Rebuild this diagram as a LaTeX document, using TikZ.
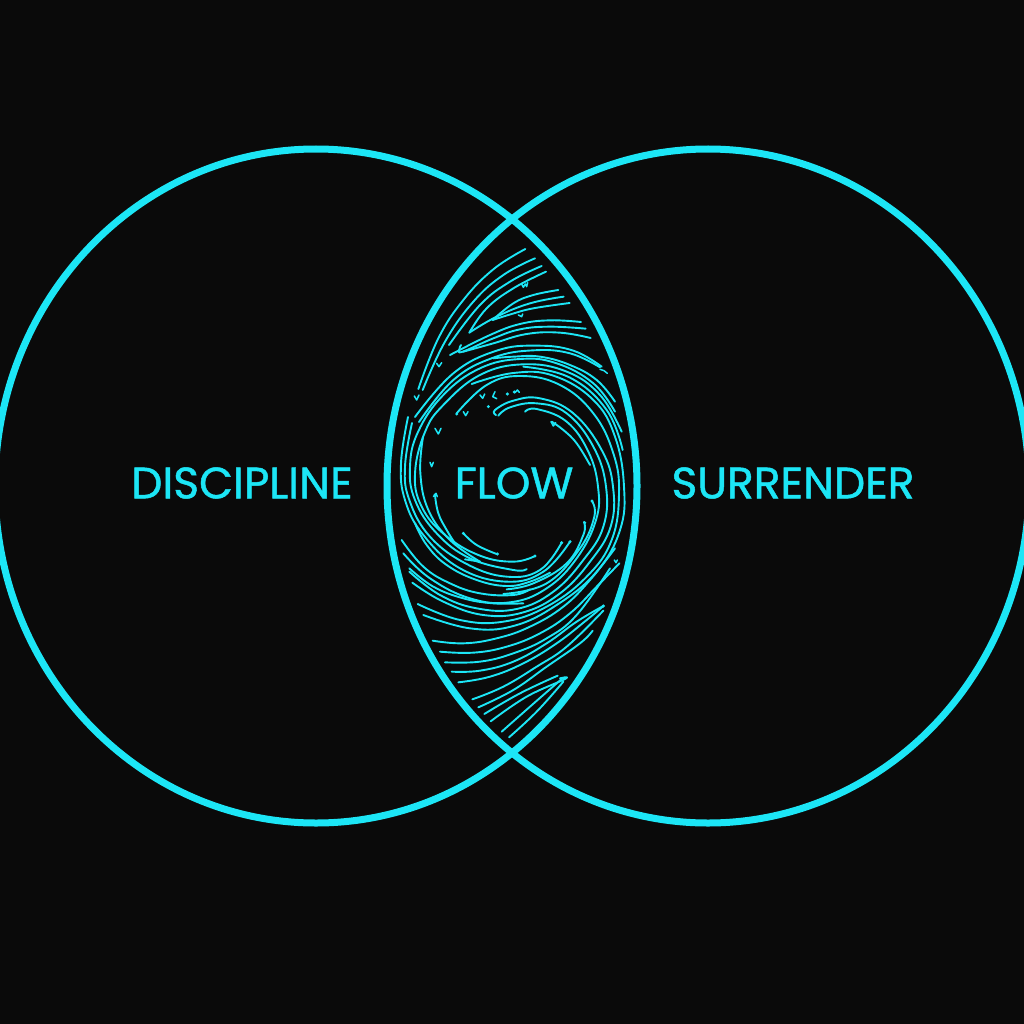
\documentclass[tikz,border=0pt]{standalone}
\usepackage{fontspec}
\setmainfont[FakeBold=1.1]{Poppins}
\definecolor{bgdark}{HTML}{0A0A0A}
\definecolor{cyanline}{HTML}{1CE6F6}
\tikzset{
  ring/.style={draw=cyanline,line width=7pt},
  label/.style={text=cyanline,font=\fontsize{44}{44}\selectfont,inner sep=0pt,anchor=center},
  flowline/.style={draw=cyanline,line width=1.9pt,line cap=round,line join=round},
  tick/.style={draw=cyanline,line width=1.5pt,line cap=round,line join=round},
  zoomtop/.style={xshift=380pt,yshift=-210pt,x=.33333pt,y=-.33333pt},
}
\newcommand{\fl}[1]{\draw[flowline] plot[smooth,tension=.7] coordinates {#1};}
\newcommand{\tk}[1]{\draw[tick] plot coordinates {#1};}
\newcommand{\dt}[1]{\fill[cyanline] #1 circle (5);}
\begin{document}
\begin{tikzpicture}[x=1pt,y=-1pt]
\fill[bgdark] (0,0) rectangle (1024,1024);
\useasboundingbox (0,0) rectangle (1024,1024);
\clip (0,0) rectangle (1024,1024);
\draw[ring] (316,486) ellipse [x radius=321,y radius=337];
\draw[ring] (708,486) ellipse [x radius=321,y radius=337];
\begin{scope}[zoomtop]
% upper fan
\fl{(436,117)(340,178)(250,270)(175,385)(115,537)}
\fl{(465,145)(370,195)(280,275)(195,395)(128,540)}
\fl{(485,168)(390,215)(300,285)(207,405)}
\fl{(498,185)(400,235)(320,295)(268,368)}
\fl{(535,240)(460,255)(400,280)(338,330)}
\fl{(551,260)(450,280)(350,320)(268,368)}
\fl{(569,279)(460,295)(395,312)(338,330)}
\fl{(603,336)(510,331)(420,342)(330,375)(210,435)}
\fl{(617,356)(510,350)(420,358)(340,385)(248,425)(238,418)(243,405)}
\fl{(632,384)(540,368)(440,372)(340,400)(250,425)}
% upper swirl: arcs that end on the right
\fl{(665,470)(580,422)(470,407)(350,422)(220,490)(105,621)}
\fl{(660,472)(570,430)(460,421)(340,443)(220,510)(117,636)}
\fl{(705,575)(650,510)(570,465)(480,440)(400,440)(340,445)}
\fl{(705,605)(640,520)(530,460)(420,447)(300,475)(190,555)(114,666)(90,770)(105,870)(170,970)(270,1045)(400,1080)(440,1077)}
\fl{(725,665)(660,555)(560,485)(430,463)(300,495)(190,585)(135,666)(105,790)(125,890)(195,975)(300,1037)(400,1055)(465,1038)}
\fl{(728,720)(680,600)(570,503)(430,470)}
\fl{(630,765)(590,700)(550,660)(515,635)}
% arcs that run round the right side and on to the bottom
\fl{(435,605)(470,597)(560,635)(625,725)(654,830)(648,930)(590,1045)(500,1135)(390,1177)(270,1165)(150,1105)(70,1030)}
\fl{(355,617)(390,592)(470,580)(560,610)(640,710)(678,830)(670,950)(610,1050)(520,1145)(410,1197)(290,1195)(180,1155)(88,1085)}
\fl{(348,615)(345,600)(400,572)(480,565)(580,610)(665,720)(699,830)(692,950)(630,1055)(540,1150)(430,1207)(310,1215)(190,1175)(97,1118)}
\fl{(230,610)(320,525)(420,498)(540,525)(640,610)(700,730)(717,850)(695,990)(620,1100)(500,1190)(370,1235)(240,1230)(113,1182)}
\fl{(275,522)(400,489)(520,497)(640,570)(705,680)(732,830)(720,960)(650,1085)(530,1185)(400,1248)(270,1255)(130,1215)}
% left side, running down to the bottom
\fl{(84,621)(63,760)(75,870)(130,975)(240,1075)(380,1115)(490,1085)(570,995)}
\fl{(96,639)(75,770)(88,870)(150,980)(260,1062)(380,1100)(480,1080)(545,998)}
\fl{(129,681)(121,789)(145,900)(210,990)(300,1055)}
\fl{(105,940)(140,1005)(200,1065)(290,1110)(380,1128)(450,1115)(510,1088)}
\fl{(165,855)(175,910)(200,960)(225,1000)}
\fl{(250,970)(290,1005)(350,1032)}
\fl{(255,1048)(300,1055)}
\fl{(636,873)(643,920)(600,1015)(500,1120)(370,1152)}
\fl{(612,936)(610,975)(560,1060)(460,1120)(380,1138)}
% below the swirl
\fl{(65,990)(130,1070)(210,1120)(300,1150)(400,1155)(450,1138)}
\fl{(88,1075)(160,1130)(250,1165)(340,1180)(430,1180)}
% lower fan
\fl{(158,1292)(250,1300)(350,1285)(450,1250)(550,1190)(630,1110)(705,1015)}
\fl{(180,1325)(280,1328)(380,1310)(480,1270)(570,1210)(650,1130)(718,1060)}
\fl{(195,1357)(300,1355)(400,1330)(500,1285)(590,1215)(690,1075)}
\fl{(215,1385)(300,1382)(400,1355)(500,1300)(590,1235)(670,1188)}
\fl{(235,1417)(330,1400)(430,1360)(530,1300)(620,1230)(670,1188)}
\fl{(277,1468)(370,1430)(470,1370)(560,1310)(670,1202)}
\fl{(295,1492)(400,1440)(500,1370)(600,1300)(638,1262)}
\fl{(313,1512)(420,1450)(533,1397)}
\fl{(332,1534)(440,1460)(555,1407)(540,1405)}
\fl{(365,1565)(450,1490)(545,1407)}
\fl{(387,1582)(470,1505)(550,1415)}
% specks
\tk{(425,222)(430,232)(436,222)(440,230)(443,218)}
\tk{(415,315)(425,320)(428,312)}
\tk{(170,460)(177,470)(185,458)}
\tk{(103,558)(110,570)(117,555)}
\tk{(165,655)(175,672)(183,655)}
\tk{(150,757)(155,770)(160,757)}
\tk{(160,860)(168,850)(172,860)}
\tk{(300,555)(308,565)(314,552)}
\tk{(250,605)(257,617)(264,605)}
\tk{(345,545)(338,560)(350,566)}
\tk{(405,548)(412,540)(418,547)}
\tk{(660,478)(672,482)(682,490)}
\tk{(513,635)(520,648)(527,638)}
\tk{(703,1050)(708,1058)(712,1050)}
\dt{(325,590)}\dt{(382,552)}\dt{(403,546)}\dt{(230,612)}
\dt{(165,855)}\dt{(250,970)}\dt{(352,1032)}\dt{(465,1038)}\dt{(545,998)}\dt{(570,995)}\dt{(614,938)}\dt{(636,873)}\dt{(670,1188)}
\end{scope}
\node[label] (discipline) at (242,483) {DISCIPLINE};
\node[label] (flow) at (514,483) {FLOW};
\node[label] (surrender) at (793,483) {SURRENDER};
\end{tikzpicture}
\end{document}
